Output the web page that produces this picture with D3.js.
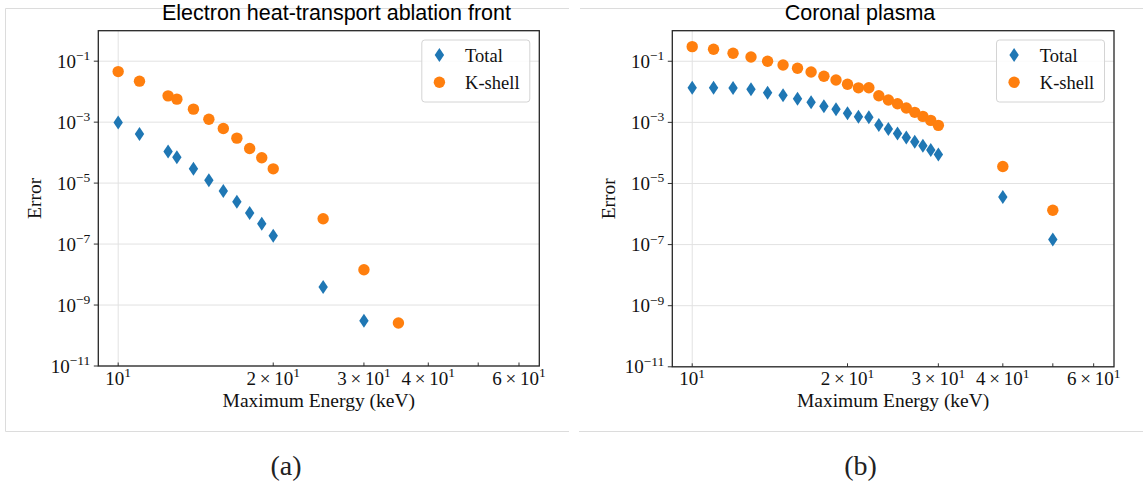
<!DOCTYPE html>
<html>
<head>
<meta charset="utf-8">
<script src="https://cdn.jsdelivr.net/npm/d3@7"></script>
<style>
  html, body { margin: 0; padding: 0; background: #fff; }
  svg { display: block; }
</style>
</head>
<body>
<svg id="fig" width="1145" height="486"></svg>
<script>
// ---- Data: convergence of the error with the maximum photon energy ----
const energyAblation = [10, 11, 12.5, 13, 14, 15, 16, 17, 18, 19, 20, 25, 30, 35];
const totalAblation  = [9.7e-4, 4.05e-4, 1.09e-4, 7.1e-5, 2.94e-5, 1.25e-5, 5.47e-6,
                        2.44e-6, 1.04e-6, 4.63e-7, 1.87e-7, 3.9e-9, 3.06e-10, null];
const kshellAblation = [0.0456, 0.0221, 7.28e-3, 5.68e-3, 2.67e-3, 1.25e-3, 6.17e-4,
                        2.99e-4, 1.36e-4, 6.76e-5, 2.94e-5, 6.76e-7, 1.44e-8, 2.57e-10];

const energyCoronal = [10, 11, 12, 13, 14, 15, 16, 17, 18, 19, 20, 21, 22, 23, 24, 25,
                       26, 27, 28, 29, 30, 40, 50];
const totalCoronal  = [0.0136, 0.0136, 0.0133, 0.0121, 0.00933, 0.00767, 0.00594, 0.00453,
                       0.00335, 0.00267, 0.00197, 0.00153, 0.00146, 8.15e-4, 6.03e-4, 4.36e-4,
                       3.22e-4, 2.31e-4, 1.71e-4, 1.24e-4, 8.93e-5, 3.64e-6, 1.46e-7];
const kshellCoronal = [0.301, 0.247, 0.183, 0.138, 0.100, 0.0757, 0.0589, 0.0446, 0.0322,
                       0.0244, 0.0176, 0.0135, 0.0136, 0.00745, 0.00538, 0.00407, 0.00294,
                       0.00213, 0.00157, 0.00116, 7.98e-4, 3.6e-5, 1.33e-6];

// Axis ticks
const yTickExponents = [-1, -3, -5, -7, -9, -11];
const xMajorTicks = [10];
const xMinorTicks = [20, 30, 40, 50, 60];
const xTickLabels = [[10, "", 1], [20, "2", 1], [30, "3", 1], [40, "4", 1], [60, "6", 1]];
const xDomain = [9.15, 65.7];
const yDomain = [1e-11, 1];

const seriesNames = ["Total", "K-shell"];
const captions = ["(a)", "(b)"];
const titles = ["Electron heat-transport ablation front", "Coronal plasma"];

const BLUE = "#1f77b4", ORANGE = "#ff7f0e";
const SERIF = "'Liberation Serif', 'DejaVu Serif', serif";
const SANS = "'Liberation Sans', Arial, sans-serif";

const svg = d3.select("#fig");
svg.append("rect").attr("width", 1145).attr("height", 486).attr("fill", "#fff");

// Thin frame lines around each sub-figure
const frame = svg.append("g").attr("stroke", "#dcdcdc").attr("fill", "none").attr("stroke-width", 1);
frame.append("path").attr("d", "M569,8.5H5.5V431.5H569");
frame.append("path").attr("d", "M580,8.5H1143");
frame.append("path").attr("d", "M579,431.5H1143");

const diamond = "M0,-7L4.7,0L0,7L-4.7,0Z";

function powerLabel(sel, mantissa, exponent, smallSize, rise) {
  if (mantissa) sel.append("tspan").text(mantissa + "\u2009\u00d7\u2009");
  sel.append("tspan").text("10");
  sel.append("tspan").attr("font-size", smallSize).attr("dy", -rise).text(exponent);
}

function drawPanel(cfg) {
  const { left, right, top, bottom, title, titleX, caption, captionX, energy, total, kshell } = cfg;
  const x = d3.scaleLog().domain(xDomain).range([left, right]);
  const y = d3.scaleLog().domain(yDomain).range([bottom, top]);
  const g = svg.append("g");

  // Grid
  const grid = g.append("g").attr("stroke", "#e2e2e2").attr("stroke-width", 1);
  yTickExponents.forEach(e => {
    grid.append("line").attr("x1", left).attr("x2", right)
      .attr("y1", y(Math.pow(10, e))).attr("y2", y(Math.pow(10, e)));
  });
  xMajorTicks.forEach(v => {
    grid.append("line").attr("x1", x(v)).attr("x2", x(v)).attr("y1", top).attr("y2", bottom);
  });

  // Markers
  const pts = energy.map((e, i) => ({ e, t: total[i], k: kshell[i] }));
  g.append("g").selectAll("path").data(pts.filter(d => d.t != null)).join("path")
    .attr("d", diamond).attr("fill", BLUE)
    .attr("transform", d => `translate(${x(d.e)},${y(d.t)})`);
  g.append("g").selectAll("circle").data(pts.filter(d => d.k != null)).join("circle")
    .attr("r", 5.7).attr("fill", ORANGE)
    .attr("cx", d => x(d.e)).attr("cy", d => y(d.k));

  // Ticks
  const ticks = g.append("g").attr("stroke", "#333").attr("stroke-width", 1);
  yTickExponents.forEach(e => {
    const yy = y(Math.pow(10, e));
    ticks.append("line").attr("x1", left - 4.5).attr("x2", left).attr("y1", yy).attr("y2", yy);
  });
  xMajorTicks.concat(xMinorTicks).forEach(v => {
    ticks.append("line").attr("x1", x(v)).attr("x2", x(v)).attr("y1", bottom).attr("y2", bottom - 3.5);
  });

  // Spines
  g.append("rect").attr("x", left).attr("y", top).attr("width", right - left).attr("height", bottom - top)
    .attr("fill", "none").attr("stroke", "#262626").attr("stroke-width", 1.3);

  // Tick labels
  const lab = g.append("g").attr("font-family", SERIF).attr("font-size", 19).attr("fill", "#111");
  yTickExponents.forEach(e => {
    const t = lab.append("text").attr("x", left - 8).attr("y", y(Math.pow(10, e)) + 6.5)
      .attr("text-anchor", "end");
    powerLabel(t, "", "\u2212" + Math.abs(e), 13.5, 7.5);
  });
  xTickLabels.forEach(([v, m, p]) => {
    const t = lab.append("text").attr("x", x(v)).attr("y", bottom + 18.5).attr("text-anchor", "middle");
    powerLabel(t, m, String(p), 13.5, 7.5);
  });

  // Axis titles
  g.append("text").attr("x", (left + right) / 2).attr("y", bottom + 40.5)
    .attr("text-anchor", "middle").attr("font-family", SERIF).attr("font-size", 19.5)
    .attr("fill", "#111").text("Maximum Energy (keV)");
  g.append("text").attr("transform", `translate(${left - 57},${(top + bottom) / 2}) rotate(-90)`)
    .attr("text-anchor", "middle").attr("font-family", SERIF).attr("font-size", 19.5)
    .attr("fill", "#111").text("Error");

  // Title
  g.append("text").attr("x", titleX).attr("y", 19.5).attr("text-anchor", "middle")
    .attr("font-family", SANS).attr("font-size", 21.5).attr("fill", "#000").text(title);

  // Legend
  const lw = 108, lh = 62;
  const lx = right - 9.5 - lw, ly = top + 9.3;
  const leg = g.append("g");
  leg.append("rect").attr("x", lx).attr("y", ly).attr("width", lw).attr("height", lh)
    .attr("rx", 3).attr("fill", "#fff").attr("fill-opacity", 0.85)
    .attr("stroke", "#d4d4d4").attr("stroke-width", 1);
  leg.append("path").attr("d", diamond).attr("fill", BLUE)
    .attr("transform", `translate(${lx + 17.6},${ly + 15})`);
  leg.append("circle").attr("r", 5.7).attr("fill", ORANGE).attr("cx", lx + 17.6).attr("cy", ly + 42.3);
  seriesNames.forEach((name, i) => {
    leg.append("text").attr("x", lx + 43.3).attr("y", ly + 21.5 + i * 27.3)
      .attr("font-family", SERIF).attr("font-size", 18.5).attr("fill", "#111").text(name);
  });

  // Caption
  svg.append("text").attr("x", captionX).attr("y", 475).attr("text-anchor", "middle")
    .attr("font-family", SERIF).attr("font-size", 28).attr("fill", "#222").text(caption);
}

drawPanel({
  left: 98.3, right: 539.3, top: 30.7, bottom: 366,
  title: titles[0], titleX: 336.5, caption: captions[0], captionX: 286,
  energy: energyAblation, total: totalAblation, kshell: kshellAblation
});
drawPanel({
  left: 672.3, right: 1114, top: 30.7, bottom: 366.8,
  title: titles[1], titleX: 860, caption: captions[1], captionX: 860.5,
  energy: energyCoronal, total: totalCoronal, kshell: kshellCoronal
});
</script>
</body>
</html>
